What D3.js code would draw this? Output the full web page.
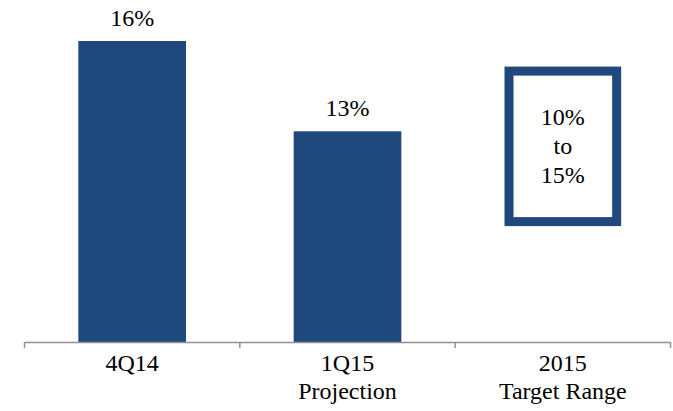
<!DOCTYPE html>
<html>
<head>
<meta charset="utf-8">
<script src="https://cdn.jsdelivr.net/npm/d3@7/dist/d3.min.js"></script>
<style>
  html, body { margin: 0; padding: 0; background: #fff; }
  svg { display: block; }
</style>
</head>
<body>
<svg id="chart" width="673" height="411"></svg>
<script>
// Categories and their axis label lines
const categories = ["4Q14", "1Q15", "2015"];
const categoryLines = [["4Q14"], ["1Q15", "Projection"], ["2015", "Target Range"]];

// Bar values (%)
const barValues = [16, 13, null];
const barLabels = ["16%", "13%", null];

// 2015 target range (%)
const targetLow = 10;
const targetHigh = 15;
const targetLines = ["10%", "to", "15%"];

const navy = "#1f497d";
const axisGrey = "#929292";
const serif = "'Times New Roman', Times, 'Liberation Serif', serif";
const fontSize = 24;

const svg = d3.select("#chart");

const x = d3.scaleBand()
  .domain(categories)
  .range([24.5, 670.5])
  .padding(0);

const y = d3.scaleLinear()
  .domain([6, 16])
  .range([342, 41]);

const barW = x.bandwidth() * 0.5;

// Bars
const bars = categories.map((c, i) => ({ c, v: barValues[i], label: barLabels[i] }))
  .filter(d => d.v != null);

svg.selectAll("rect.bar")
  .data(bars)
  .enter().append("rect")
  .attr("class", "bar")
  .attr("x", d => x(d.c) + (x.bandwidth() - barW) / 2)
  .attr("y", d => y(d.v))
  .attr("width", barW)
  .attr("height", d => y.range()[0] - y(d.v))
  .attr("fill", navy);

svg.selectAll("text.val")
  .data(bars)
  .enter().append("text")
  .attr("class", "val")
  .attr("x", d => x(d.c) + x.bandwidth() / 2)
  .attr("y", d => y(d.v) - 15)
  .attr("text-anchor", "middle")
  .style("font-family", serif)
  .style("font-size", fontSize + "px")
  .text(d => d.label);

// Target range box
const cx3 = x("2015") + x.bandwidth() / 2;
svg.append("rect")
  .attr("x", cx3 - barW / 2)
  .attr("y", y(targetHigh))
  .attr("width", barW)
  .attr("height", y(targetLow) - y(targetHigh))
  .attr("fill", "#fff")
  .attr("stroke", navy)
  .attr("stroke-width", 9);

const boxMid = (y(targetLow) + y(targetHigh)) / 2;
svg.selectAll("text.rng")
  .data(targetLines)
  .enter().append("text")
  .attr("class", "rng")
  .attr("x", cx3)
  .attr("y", (d, i) => boxMid + 8 + (i - 1) * 29)
  .attr("text-anchor", "middle")
  .style("font-family", serif)
  .style("font-size", fontSize + "px")
  .text(d => d);

// Category axis
const axis = d3.axisBottom(x)
  .tickValues([])
  .tickSizeOuter(0);
const gAxis = svg.append("g")
  .attr("transform", `translate(0,${y.range()[0]})`)
  .call(axis);
gAxis.select(".domain").attr("stroke", axisGrey).attr("stroke-width", 1.5);

// Category boundary ticks
const bounds = categories.map(c => x(c)).concat([x.range()[1]]);
gAxis.selectAll("line.bound")
  .data(bounds)
  .enter().append("line")
  .attr("class", "bound")
  .attr("x1", d => d).attr("x2", d => d)
  .attr("y1", 0).attr("y2", 6)
  .attr("stroke", axisGrey)
  .attr("stroke-width", 1.5);

// Category labels
categories.forEach((c, i) => {
  svg.append("g").selectAll("text")
    .data(categoryLines[i])
    .enter().append("text")
    .attr("x", x(c) + x.bandwidth() / 2)
    .attr("y", (d, j) => y.range()[0] + 29 + j * 28)
    .attr("text-anchor", "middle")
    .style("font-family", serif)
    .style("font-size", fontSize + "px")
    .text(d => d);
});
</script>
</body>
</html>
